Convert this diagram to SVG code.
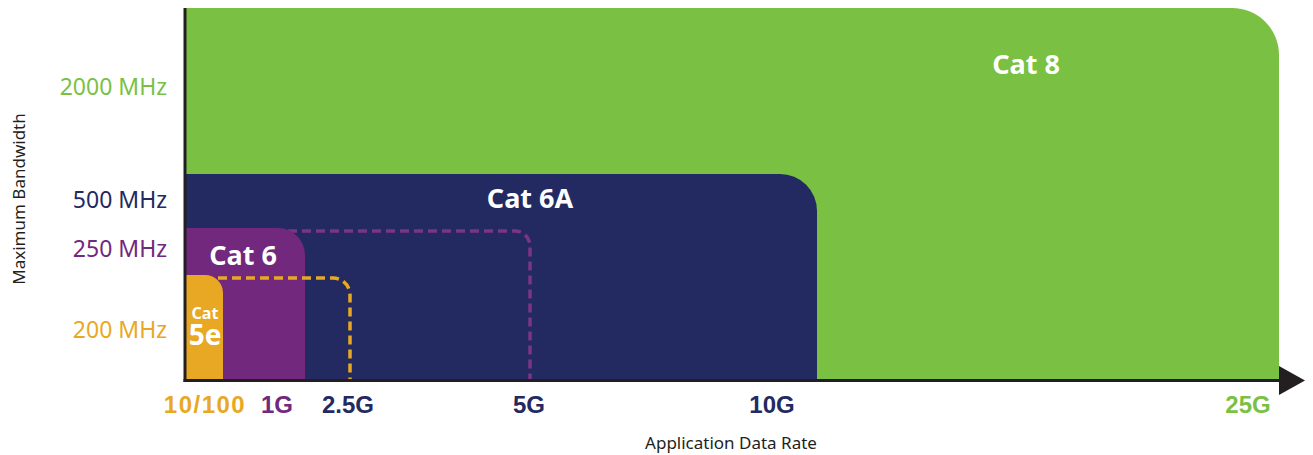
<svg xmlns="http://www.w3.org/2000/svg" width="1313" height="455" viewBox="0 0 1313 455">
<style>
.cat{font-family:"Noto Sans",sans-serif;font-weight:bold;fill:#fff;text-anchor:middle}
.ylab{font-family:"Noto Sans",sans-serif;font-size:23px;text-anchor:end}
.xlab{font-family:"Liberation Sans",Arial,sans-serif;font-weight:bold;font-size:24px;text-anchor:middle}
.title{font-family:"Noto Sans",sans-serif;font-size:17px;fill:#231f20;text-anchor:middle}
.dash{fill:none;stroke-width:3.5;stroke-dasharray:9 5}
</style>
<rect width="1313" height="455" fill="#fff"/>
<g id="cat8">
<path d="M186 8 H1232 A47 47 0 0 1 1279 55 V380 H186 Z" fill="#7AC143"/>
<text class="cat" x="1026" y="74" font-size="27">Cat 8</text>
</g>
<g id="cat6a">
<path d="M186 174 H780 A37 37 0 0 1 817 211 V380 H186 Z" fill="#232961"/>
<text class="cat" x="530" y="208" font-size="27">Cat 6A</text>
</g>
<g id="cat6-limit">
<path class="dash" d="M288 231 H515 A15 15 0 0 1 530 246 V380" stroke="#7A3588"/>
</g>
<g id="cat6">
<path d="M186 228 H278 A27 27 0 0 1 305 255 V380 H186 Z" fill="#71287D"/>
<text class="cat" x="243" y="265" font-size="27">Cat 6</text>
</g>
<g id="cat5e-limit">
<path class="dash" d="M218 278 H333 A17 17 0 0 1 350 295 V380" stroke="#E9A823"/>
</g>
<g id="cat5e">
<path d="M186 275 H205 A18 18 0 0 1 223 293 V380 H186 Z" fill="#E9A823"/>
<text class="cat" font-size="16"><tspan x="205" y="319">Cat</tspan><tspan x="205" y="345" font-size="28">5e</tspan></text>
</g>
<g id="axes">
<line x1="185" y1="8" x2="185" y2="382" stroke="#231f20" stroke-width="3"/>
<line x1="183.5" y1="380.5" x2="1281" y2="380.5" stroke="#231f20" stroke-width="3"/>
<polygon points="1279,366 1305,380.5 1279,395" fill="#231f20"/>
</g>
<g id="y-labels">
<text class="ylab" x="167" y="95" fill="#7AC143">2000 MHz</text>
<text class="ylab" x="167" y="208" fill="#232961">500 MHz</text>
<text class="ylab" x="167" y="257" fill="#71287D">250 MHz</text>
<text class="ylab" x="167" y="338" fill="#E9A823">200 MHz</text>
<text class="title" transform="translate(25 199) rotate(-90)">Maximum Bandwidth</text>
</g>
<g id="x-labels">
<text class="xlab" x="205" y="413" fill="#E9A823" letter-spacing="1.5">10/100</text>
<text class="xlab" x="277" y="413" fill="#71287D">1G</text>
<text class="xlab" x="348" y="413" fill="#232961">2.5G</text>
<text class="xlab" x="529" y="413" fill="#232961">5G</text>
<text class="xlab" x="772" y="413" fill="#232961">10G</text>
<text class="xlab" x="1248" y="413" fill="#7AC143">25G</text>
<text class="title" x="731" y="449" font-size="18">Application Data Rate</text>
</g>
</svg>
